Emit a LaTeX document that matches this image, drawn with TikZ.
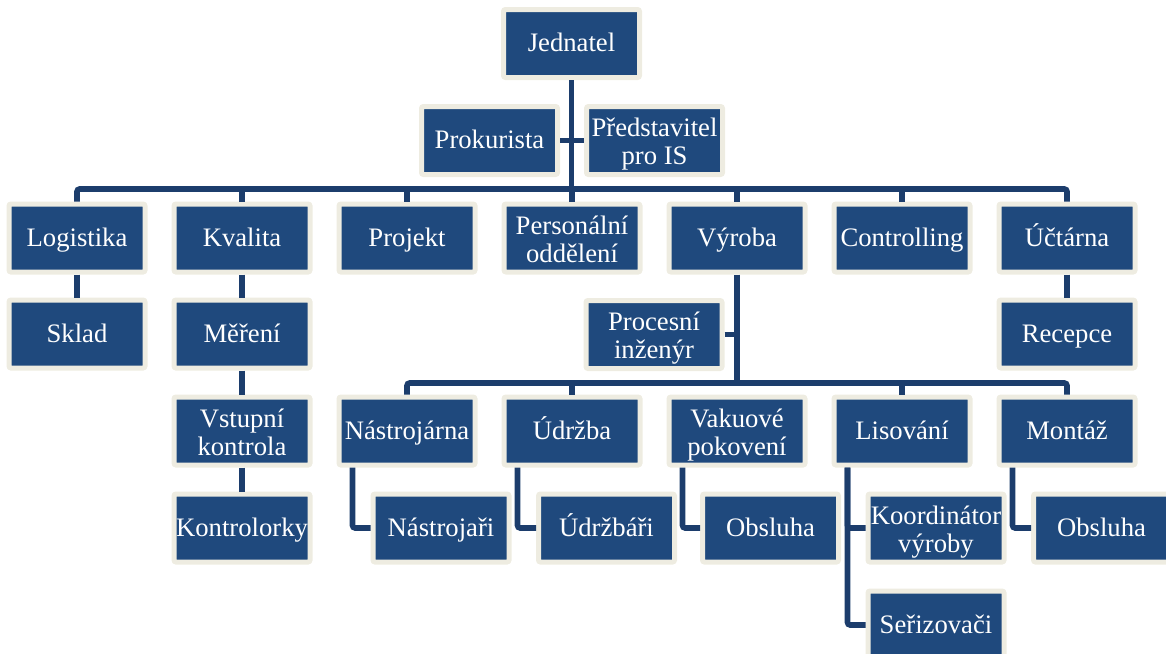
\documentclass[tikz,border=0pt]{standalone}
\usepackage{fontspec}
\setmainfont{Liberation Serif}
\usepackage{xcolor}
\usetikzlibrary{calc}
\definecolor{boxblue}{HTML}{1F497D}
\definecolor{boxrim}{HTML}{EEECE1}
\definecolor{linkblue}{HTML}{1C3D6C}
\newcommand{\toprule}{\rule{0pt}{21pt}}

\begin{document}
\begin{tikzpicture}[x=0.75pt, y=-0.75pt,
    unit/.style={rectangle, fill=boxblue, draw=boxrim, line width=3.75pt, rounded corners=1.5pt,
        minimum width=102pt, minimum height=51pt, inner sep=0pt, align=center, text=white,
        font=\fontsize{20}{21}\selectfont,
        execute at begin node={\rule{0pt}{18pt}}, execute at end node={\rule[-6pt]{0pt}{0pt}}},
    link/.style={draw=linkblue, line width=4.2pt, rounded corners=2pt}]
        \useasboundingbox (0,0) rectangle (1166,653);

        \coordinate (jed) at (571.5, 43.5);
        \coordinate (prok) at (489.5, 140.5);
        \coordinate (pred) at (654.5, 140.5);
        \coordinate (bus1) at (571.5, 189);
        \coordinate (log) at (77, 238);
        \coordinate (kva) at (242, 238);
        \coordinate (proj) at (407, 238);
        \coordinate (pers) at (572, 238);
        \coordinate (vyr) at (737, 238);
        \coordinate (con) at (902, 238);
        \coordinate (uct) at (1067, 238);
        \coordinate (skl) at (77, 334);
        \coordinate (mer) at (242, 334);
        \coordinate (rec) at (1067, 334);
        \coordinate (vst) at (242, 431);
        \coordinate (kon) at (242, 528);
        \coordinate (proc) at (654, 334.5);
        \coordinate (bus2) at (737, 383);
        \coordinate (nas) at (407, 431);
        \coordinate (udr) at (572, 431);
        \coordinate (vak) at (737, 431);
        \coordinate (lis) at (902, 431);
        \coordinate (mon) at (1067, 431);
        \coordinate (nasj) at (441, 528);
        \coordinate (udrj) at (606.5, 528);
        \coordinate (obs1) at (770.5, 528);
        \coordinate (koo) at (936, 528);
        \coordinate (ser) at (936, 625);
        \coordinate (obs2) at (1101.5, 528);

        \node[unit] (nodejed) at (jed) {Jednatel};
        \node[unit] (nodeprok) at (prok) {Prokurista};
        \node[unit] (nodepred) at (pred) {\toprule Představitel\\pro IS};
        \node[unit] (nodelog) at (log) {Logistika};
        \node[unit] (nodekva) at (kva) {Kvalita};
        \node[unit] (nodeproj) at (proj) {Projekt};
        \node[unit] (nodepers) at (pers) {\toprule Personální\\oddělení};
        \node[unit] (nodevyr) at (vyr) {Výroba};
        \node[unit] (nodecon) at (con) {Controlling};
        \node[unit] (nodeuct) at (uct) {Účtárna};
        \node[unit] (nodeskl) at (skl) {Sklad};
        \node[unit] (nodemer) at (mer) {Měření};
        \node[unit] (noderec) at (rec) {Recepce};
        \node[unit] (nodevst) at (vst) {\toprule Vstupní\\kontrola};
        \node[unit] (nodekon) at (kon) {Kontrolorky};
        \node[unit] (nodeproc) at (proc) {\toprule Procesní\\inženýr};
        \node[unit] (nodenas) at (nas) {Nástrojárna};
        \node[unit] (nodeudr) at (udr) {Údržba};
        \node[unit] (nodevak) at (vak) {\toprule Vakuové\\pokovení};
        \node[unit] (nodelis) at (lis) {Lisování};
        \node[unit] (nodemon) at (mon) {Montáž};
        \node[unit] (nodenasj) at (nasj) {Nástrojaři};
        \node[unit] (nodeudrj) at (udrj) {Údržbáři};
        \node[unit] (nodeobs1) at (obs1) {Obsluha};
        \node[unit] (nodekoo) at (koo) {\toprule Koordinátor\\výroby};
        \node[unit] (nodeser) at (ser) {Seřizovači};
        \node[unit] (nodeobs2) at (obs2) {Obsluha};

        % top of the tree
        \draw[link] (nodejed.south) -- (bus1);
        \draw[link] (nodeprok.east) -- (nodepred.west);
        \draw[link] (nodelog.north) |- (bus1) -| (nodeuct.north);
        \draw[link] (nodekva.north) -- (nodekva.north |- bus1);
        \draw[link] (nodeproj.north) -- (nodeproj.north |- bus1);
        \draw[link] (nodepers.north) -- (nodepers.north |- bus1);
        \draw[link] (nodevyr.north) -- (nodevyr.north |- bus1);
        \draw[link] (nodecon.north) -- (nodecon.north |- bus1);

        \draw[link] (nodelog.south) -- (nodeskl.north);
        \draw[link] (nodekva.south) -- (nodemer.north);
        \draw[link] (nodemer.south) -- (nodevst.north);
        \draw[link] (nodevst.south) -- (nodekon.north);
        \draw[link] (nodeuct.south) -- (noderec.north);

        % production
        \draw[link] (nodevyr.south) -- (bus2);
        \draw[link] (nodeproc.east) -- (nodeproc.east -| bus2);
        \draw[link] (nodenas.north) |- (bus2) -| (nodemon.north);
        \draw[link] (nodeudr.north) -- (nodeudr.north |- bus2);
        \draw[link] (nodelis.north) -- (nodelis.north |- bus2);

        \draw[link] ($(nodenas.south west)+(16,0)$) |- (nodenasj.west);
        \draw[link] ($(nodeudr.south west)+(16,0)$) |- (nodeudrj.west);
        \draw[link] ($(nodevak.south west)+(16,0)$) |- (nodeobs1.west);
        \draw[link] ($(nodelis.south west)+(16,0)$) |- (nodekoo.west);
        \draw[link] ($(nodelis.south west)+(16,0)$) |- (nodeser.west);
        \draw[link] ($(nodemon.south west)+(16,0)$) |- (nodeobs2.west);
\end{tikzpicture}
\end{document}
